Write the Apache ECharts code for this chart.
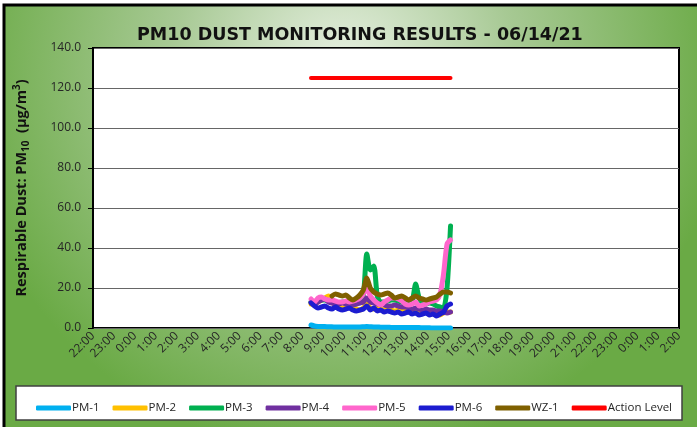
<!DOCTYPE html>
<html>
<head>
<meta charset="utf-8">
<script src="https://cdn.jsdelivr.net/npm/echarts@6/dist/echarts.min.js"></script>
<style>
  html, body { margin: 0; padding: 0; background: #fff; }
  #chart { width: 697px; height: 427px; }
</style>
</head>
<body>
<div id="chart"></div>
<script>
// sample times (06/14/21)
var times = ['08:25','08:35','08:45','08:55','09:05','09:15','09:25','09:35','09:45','09:55',
  '10:05','10:15','10:25','10:35','10:45','10:55','11:05','11:15','11:25','11:35',
  '11:45','11:55','12:05','12:15','12:25','12:35','12:45','12:55','13:05','13:15',
  '13:25','13:35','13:45','13:55','14:05','14:15','14:25','14:35','14:45','14:55',
  '15:05'];

var pm1 = [1.5,1.0,0.8,0.7,0.7,0.6,0.6,0.5,0.5,0.5, 0.5,0.5,0.5,0.5,0.5,0.6,0.7,0.6,0.5,0.5,
  0.4,0.4,0.4,0.3,0.3,0.3,0.3,0.3,0.2,0.2, 0.2,0.2,0.1,0.1,0.1,0,0,0,0,0, 0];
var pm2 = [12,12.5,13,14,15,16,14,11,10.5,10, 10,10.5,10,9.5,9,10,12,10,9.5,10,
  9.5,9,9,9,8.5,9,8.5,8.5,8,8.5, 8,8,7.5,8,8,7.5,7,6.5,7.5,8, 8];
var pm3 = [13,12.5,13.5,14,14,13.5,13,12.5,12.5,13, 13,12.5,13,13.5,14,16,37,29,31,16,
  13,13,13.5,14,14,13.5,13,12.5,12,13, 22,15,12.5,12,12.5,12,11,10.5,10,20, 51];
var pm4 = [13,12,13,14,14.5,13,12.5,12,12,12.5, 12,12,11.5,12,12.5,13,15,13,12.5,12,
  12,11.5,11,11,11.5,11,10.5,10.5,10,9.5, 10,9.5,9,9.5,9,9,8.5,8.5,8,7.5, 8];
var pm5 = [14.5,13,15,15.5,14.5,14,14,13.5,13,13, 13.5,13,13.5,14,15,17,20,16,14,12.5,
  11.5,13,14,15,15,14.5,13.5,12,11.5,12, 13,11,11.5,12,13,13.5,14,17,27,42, 44];
var pm6 = [12.5,11,10,10.5,11,10,9.5,10.5,9.5,9, 9.5,10,9,8.5,9,9.5,11,9,10,8.5,
  9,8,8.5,8,7.5,8,7,7.5,8,7, 7.5,6.5,7,7.5,6.5,7,6,7,8,11, 12];
var wz1 = [null,null,null,null,null,null,16,17,16.5,16, 16.5,15,14,15,16.5,19,25,20,18,17,
  16.5,17,17.5,16.5,15,15.5,16,15,14,15, 16,15,14.5,14,14.5,15,15.5,17,18,18, 17.5];
var actionLevel = 125;

// x axis runs 22:00 (day before) .. 02:00 (day after), in hours
var xMin = -2, xMax = 26;

function toHours(t) {
  var p = t.split(':');
  return +p[0] + (+p[1]) / 60;
}
function pairs(vals) {
  return times.map(function (t, i) { return [toHours(t), vals[i]]; });
}

var font = '"Open Sans", sans-serif';

function lineSeries(name, color, vals) {
  return {
    name: name,
    type: 'line',
    data: pairs(vals),
    showSymbol: false,
    smooth: 0.25,
    connectNulls: false,
    lineStyle: { color: color, width: 5, cap: 'round', join: 'round' },
    itemStyle: { color: color }
  };
}

var option = {
  animation: false,
  graphic: {
    elements: [
      {
        type: 'rect', z: -100,
        shape: { x: 4, y: 5, width: 720, height: 450 },
        style: {
          fill: {
            type: 'radial', x: 0.47, y: 0.15, r: 0.85,
            colorStops: [
              { offset: 0, color: '#e9f1e4' },
              { offset: 0.45, color: '#a7c994' },
              { offset: 1, color: '#6aaa45' }
            ]
          },
          stroke: '#000', lineWidth: 3
        }
      },
      {
        type: 'rect', z: 1,
        shape: { x: 16, y: 386, width: 666, height: 34 },
        style: { fill: '#fff', stroke: '#404040', lineWidth: 1.5 }
      }
    ]
  },
  title: {
    text: 'PM10 DUST MONITORING RESULTS - 06/14/21',
    left: 132, top: 21,
    textStyle: { fontFamily: '"DejaVu Sans", sans-serif', fontWeight: 'bold', fontSize: 17.5, color: '#111' }
  },
  legend: {
    z: 10,
    left: 31, top: 397,
    itemGap: 13, itemWidth: 35, itemHeight: 5,
    icon: 'roundRect',
    textStyle: { fontFamily: font, fontSize: 11.5, color: '#262626', padding: [0, 0, 0, -4] },
    data: ['PM-1','PM-2','PM-3','PM-4','PM-5','PM-6','WZ-1','Action Level']
  },
  grid: {
    left: 93, right: 18, top: 48, bottom: 99,
    show: true, backgroundColor: '#fff', borderColor: '#000', borderWidth: 2
  },
  xAxis: {
    type: 'value', min: xMin, max: xMax, interval: 1,
    axisLine: { show: false },
    axisTick: { show: false },
    splitLine: { show: false },
    axisLabel: {
      rotate: 45, margin: 6,
      fontFamily: font, fontSize: 12, color: '#262626',
      formatter: function (v) { return (((v % 24) + 24) % 24) + ':00'; }
    }
  },
  yAxis: {
    type: 'value', min: 0, max: 140, interval: 20,
    name: '{a|Respirable Dust: PM}{s|10}{a|  (µg/m}{p|3}{a|)}',
    nameLocation: 'middle', nameGap: 62,
    nameTextStyle: {
      rich: {
        a: { fontFamily: font, fontWeight: 'bold', fontSize: 14.5, color: '#111' },
        s: { fontFamily: font, fontWeight: 'bold', fontSize: 10, color: '#111', padding: [9, 0, 0, 0] },
        p: { fontFamily: font, fontWeight: 'bold', fontSize: 10, color: '#111', padding: [0, 0, 8, 0] }
      }
    },
    axisLine: { show: true, onZero: false, lineStyle: { color: '#000', width: 2 } },
    axisTick: { show: true, inside: false, length: 5, lineStyle: { color: '#000' } },
    splitLine: { show: true, lineStyle: { color: '#666', width: 1.2 } },
    axisLabel: {
      margin: 12, fontFamily: font, fontSize: 12, color: '#262626',
      formatter: function (v) { return v.toFixed(1); }
    }
  },
  series: [
    lineSeries('PM-1', '#00b0f0', pm1),
    lineSeries('PM-2', '#ffc000', pm2),
    lineSeries('PM-3', '#00b050', pm3),
    lineSeries('PM-4', '#7030a0', pm4),
    lineSeries('PM-5', '#ff66cc', pm5),
    lineSeries('PM-6', '#1c1cd0', pm6),
    lineSeries('WZ-1', '#7f6000', wz1),
    {
      name: 'Action Level',
      type: 'line',
      showSymbol: false,
      data: [[toHours(times[0]), actionLevel], [toHours(times[times.length - 1]), actionLevel]],
      lineStyle: { color: '#ff0000', width: 4, cap: 'round' },
      itemStyle: { color: '#ff0000' }
    }
  ]
};

var myChart = echarts.init(document.getElementById('chart'));
myChart.setOption(option);
</script>
</body>
</html>
